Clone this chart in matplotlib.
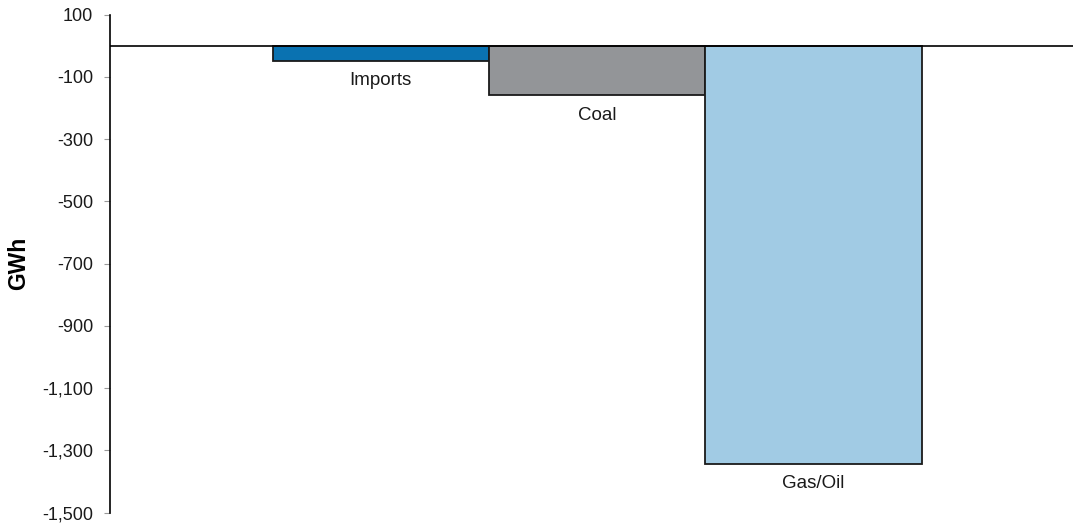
import matplotlib.pyplot as plt
import numpy as np

plt.rcParams['font.family'] = ['Liberation Sans', 'DejaVu Sans']

categories = ['Imports', 'Coal', 'Gas/Oil']
values = [-48, -159, -1342]   # GWh
colours = ['#0a72b1', '#939598', '#a1cbe4']

xpos = np.arange(1, len(categories) + 1)

fig = plt.figure(figsize=(10.73, 5.25), dpi=100)
ax = fig.add_axes([0.1025, 0.0234, 0.8975, 0.9486])

ax.bar(xpos, values, width=1.0, color=colours,
       edgecolor='#1a1a1a', linewidth=1.3, zorder=3)

for x, y, name in zip(xpos, values, categories):
    ax.annotate(name, (x, y), xytext=(0, -14.5), textcoords='offset points',
                ha='center', va='center', fontsize=13.5, color='#1a1a1a')

ax.axhline(0, color='black', linewidth=1.2, zorder=4)

ax.set_xlim(-0.252, 4.2)
ax.set_ylim(-1500, 100)
ax.set_yticks(np.arange(-1500, 101, 200))
ax.yaxis.set_major_formatter(plt.FuncFormatter(lambda v, p: f'{int(v):,}'))
ax.set_xticks([])

for s in ['top', 'right', 'bottom']:
    ax.spines[s].set_visible(False)
ax.spines['left'].set_color('black')
ax.spines['left'].set_linewidth(1.2)
ax.tick_params(axis='y', length=4, color='#999999', labelsize=13,
               labelcolor='#1a1a1a', pad=8)

ax.set_ylabel('GWh', fontsize=16.5, fontweight='bold')
ax.yaxis.set_label_coords(-0.083, 0.5)

fig.savefig('out.png', dpi=100)
